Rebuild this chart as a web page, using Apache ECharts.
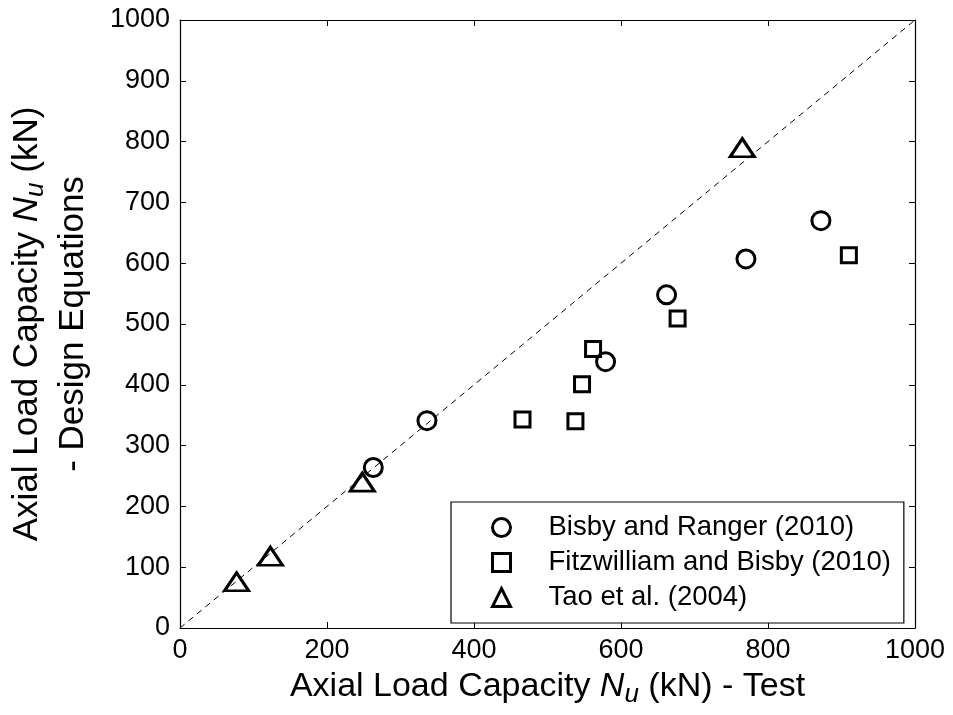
<!DOCTYPE html>
<html>
<head>
<meta charset="utf-8">
<script src="https://cdn.jsdelivr.net/npm/echarts@6/dist/echarts.min.js"></script>
<style>
html,body{margin:0;padding:0;background:#fff;}
#c{width:953px;height:715px;}
</style>
</head>
<body>
<div id="c"></div>
<script>
// Data (x = test, y = design equations), kN
const bisbyRangerTest   = [263, 336, 579, 662, 770, 872];
const bisbyRangerDesign = [264, 341, 438, 548, 607, 670];

const fitzTest   = [466, 538, 547, 562, 677, 910];
const fitzDesign = [343, 340, 401, 459, 509, 613];

const taoTest   = [77, 123, 248, 765];
const taoDesign = [76, 118, 240, 790];

const lineOfEquality = [[0, 0], [1000, 1000]];

const xTicks = [0, 200, 400, 600, 800, 1000];
const yTicks = [0, 100, 200, 300, 400, 500, 600, 700, 800, 900, 1000];

const seriesNames = ['Bisby and Ranger (2010)', 'Fitzwilliam and Bisby (2010)', 'Tao et al. (2004)'];

function pairs(xs, ys) { return xs.map((x, i) => [x, ys[i]]); }

const FONT = 'Liberation Sans, Arial, sans-serif';
const chart = echarts.init(document.getElementById('c'), null, {renderer: 'canvas'});

const markerStyle = {color: 'rgba(0,0,0,0)', borderColor: '#000', borderWidth: 3, opacity: 1};

const baseAxis = {
  type: 'value', min: 0, max: 1000,
  axisLine: {show: true, onZero: false, lineStyle: {color: '#000', width: 1.2}},
  axisTick: {show: true, inside: true, length: 6, lineStyle: {color: '#000', width: 1}},
  splitLine: {show: false}
};

function titleRich(fs) {
  return {
    n: {fontFamily: FONT, fontSize: fs, color: '#000'},
    it: {fontFamily: FONT, fontSize: fs, fontStyle: 'italic', color: '#000'},
    sub: {fontFamily: FONT, fontSize: Math.round(fs * 0.75), fontStyle: 'italic', color: '#000', padding: [Math.round(fs * 0.5), 0, 0, 0]}
  };
}

chart.setOption({
  animation: false,
  backgroundColor: '#fff',
  grid: {left: 180, right: 38, top: 20, bottom: 87, containLabel: false, outerBoundsMode: 'none'},
  xAxis: [
    Object.assign({}, baseAxis, {
      position: 'bottom', interval: 200,
      axisLabel: {show: true, margin: 9, fontSize: 27, fontFamily: FONT, color: '#000',
        formatter: v => xTicks.includes(v) ? String(v) : ''},
      name: '{n|Axial Load Capacity }{it|N}{sub|u}{n| (kN) - Test}',
      nameLocation: 'middle', nameGap: 37,
      nameTextStyle: {rich: titleRich(34), fontSize: 34, fontFamily: FONT, color: '#000'}
    }),
    Object.assign({}, baseAxis, {position: 'top', interval: 200, axisLabel: {show: false}})
  ],
  yAxis: [
    Object.assign({}, baseAxis, {
      position: 'left', interval: 100,
      axisLabel: {show: true, margin: 10, fontSize: 27, fontFamily: FONT, color: '#000',
        formatter: v => yTicks.includes(v) ? String(v) : ''},
      name: '{n|Axial Load Capacity }{it|N}{sub|u}{n| (kN)}\n{n|- Design Equations}',
      nameLocation: 'middle', nameGap: 84, nameRotate: 90,
      nameTextStyle: {rich: titleRich(35), fontSize: 35, fontFamily: FONT, color: '#000', align: 'center', lineHeight: 46}
    }),
    Object.assign({}, baseAxis, {position: 'right', interval: 100, axisLabel: {show: false}})
  ],
  legend: {
    show: true,
    data: seriesNames,
    orient: 'vertical',
    left: 451, top: 502,
    padding: [8, 13, 8, 40],
    itemGap: 0,
    itemWidth: 18, itemHeight: 18,
    itemStyle: {color: 'rgba(0,0,0,0)', borderColor: '#000', borderWidth: 3, opacity: 1},
    backgroundColor: '#fff',
    borderColor: '#000', borderWidth: 1.2, borderRadius: 0,
    textStyle: {fontFamily: FONT, fontSize: 27.5, color: '#000', lineHeight: 35, padding: [0, 0, 0, 33]}
  },
  series: [
    {
      name: 'equality', type: 'line', data: lineOfEquality, symbol: 'none', silent: true,
      lineStyle: {color: '#000', width: 1, type: [6, 5]}, z: 1, legendHoverLink: false
    },
    {
      name: seriesNames[0], type: 'scatter', data: pairs(bisbyRangerTest, bisbyRangerDesign),
      symbol: 'circle', symbolSize: 18, itemStyle: markerStyle, z: 3
    },
    {
      name: seriesNames[1], type: 'scatter', data: pairs(fitzTest, fitzDesign),
      symbol: 'rect', symbolSize: 15, itemStyle: markerStyle, z: 3
    },
    {
      name: seriesNames[2], type: 'scatter', data: pairs(taoTest, taoDesign),
      symbol: 'triangle', symbolSize: [24, 18], itemStyle: markerStyle, z: 3
    }
  ]
});
</script>
</body>
</html>
